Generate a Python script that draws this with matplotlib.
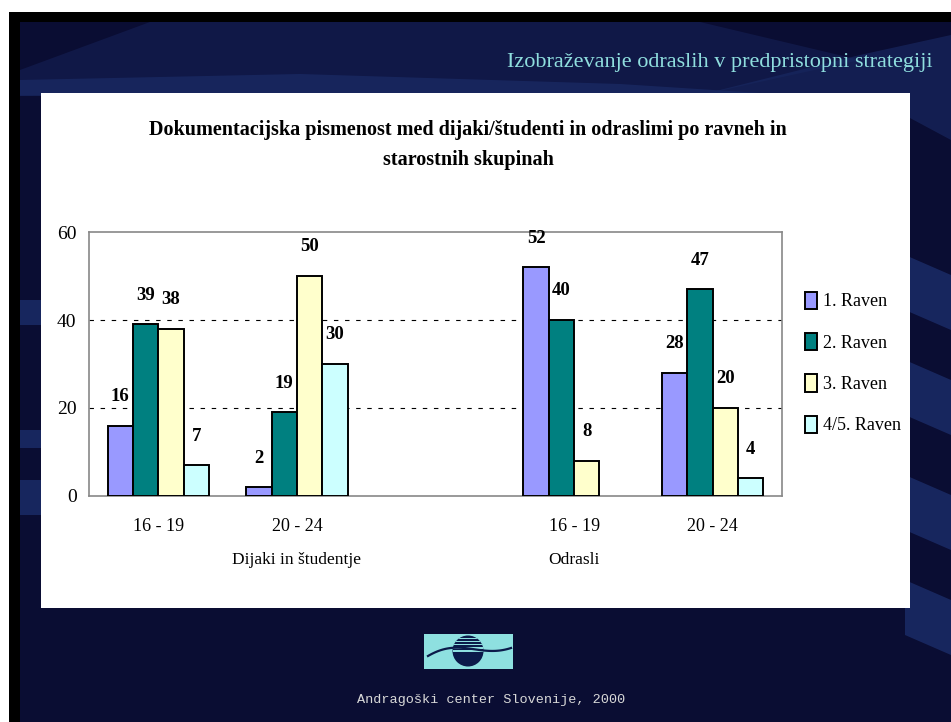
import numpy as np
import matplotlib
matplotlib.use("Agg")
import matplotlib.pyplot as plt
from matplotlib.patches import Rectangle, Polygon, Circle

# ---- data -------------------------------------------------------------
age_groups = ["16 - 19", "20 - 24", "", "16 - 19", "20 - 24"]
population_groups = ["Dijaki in študentje", "Odrasli"]
population_label_pos = [1, 3]
levels = ["1. Raven", "2. Raven", "3. Raven", "4/5. Raven"]
raven_1 = [16, 2, None, 52, 28]
raven_2 = [39, 19, None, 40, 47]
raven_3 = [38, 50, None, 8, 20]
raven_45 = [7, 30, None, None, 4]
series = [raven_1, raven_2, raven_3, raven_45]
colors = ["#9999FF", "#008080", "#FFFFCC", "#CCFFFF"]
y_ticks = [0, 20, 40, 60]

title_lines = ["Dokumentacijska pismenost med dijaki/študenti in odraslimi po ravneh in",
               "starostnih skupinah"]
header = "Izobraževanje odraslih v predpristopni strategiji"
footer = "Andragoški center Slovenije, 2000"

W, H = 951, 722
fig = plt.figure(figsize=(W / 100, H / 100), dpi=100)
fig.patch.set_facecolor("white")

# ---- slide background (pixel coordinates, y downwards) ---------------
bg = fig.add_axes([0, 0, 1, 1], zorder=0)
bg.set_xlim(0, W)
bg.set_ylim(H, 0)
bg.axis("off")

bg.add_patch(Rectangle((9, 12), W - 9, H - 12, facecolor="#000000", lw=0))
bg.add_patch(Rectangle((20, 22), W - 20, H - 22, facecolor="#0a0d33", lw=0))

band = "#1a2b66"
# broad sweep across the top
bg.add_patch(Polygon([(150, 22), (700, 22), (860, 60), (700, 95), (20, 95), (20, 70)],
                     closed=True, facecolor="#131d50", lw=0, alpha=0.7))
bg.add_patch(Polygon([(20, 80), (300, 74), (620, 84), (760, 93), (20, 96)],
                     closed=True, facecolor=band, lw=0, alpha=0.7))
bg.add_patch(Polygon([(700, 95), (860, 55), (951, 35), (951, 140), (910, 118)],
                     closed=True, facecolor=band, lw=0, alpha=0.6))
# diagonal stripes on the right edge
for y0 in (275, 380, 495, 600):
    bg.add_patch(Polygon([(905, y0 - 20), (951, y0), (951, y0 + 55), (905, y0 + 35)],
                         closed=True, facecolor=band, lw=0, alpha=0.85))
# patches on the left edge
for y0, h in ((300, 25), (430, 18), (480, 35)):
    bg.add_patch(Rectangle((20, y0), 21, h, facecolor=band, lw=0, alpha=0.85))

# white chart panel
bg.add_patch(Rectangle((41, 93), 869, 515, facecolor="white", lw=0))

bg.text(933, 62, header, ha="right", va="center", color="#8fdede",
        fontsize=16, family="Liberation Serif")
for yy, line in zip((130, 160), title_lines):
    bg.text(468, yy, line, ha="center", va="center", color="black",
            fontsize=14.5, fontweight="bold", family="Liberation Serif")

# logo
bg.add_patch(Rectangle((424, 634), 89, 35, facecolor="#8ee0e0", lw=0))
cx, cy, r = 468, 651, 15.5
disc = Circle((cx, cy), r, facecolor="#0b1a4a", lw=0)
bg.add_patch(disc)
for k in range(5):
    yy = cy - r + 2 + k * 3.2
    stripe = Rectangle((cx - r, yy), 2 * r, 1.4, facecolor="#8ee0e0", lw=0)
    bg.add_patch(stripe)
    stripe.set_clip_path(disc)
t = np.linspace(0, 1, 100)
wx = 428 + t * 83
wy = 656 - 8 * np.sin(np.pi * t) * (1 - t) * 1.6 + 6 * np.sin(np.pi * t) * t - 8 * t
bg.plot(wx, wy, color="#0b1a4a", lw=1.6)

bg.text(491, 700, footer, ha="center", va="center", color="#d8d8d8",
        fontsize=9.7, family="Liberation Mono")

# ---- bar chart --------------------------------------------------------
ax = fig.add_axes([89 / W, 1 - 496 / H, (782 - 89) / W, (496 - 232) / H], zorder=2)
ax.set_facecolor("white")
x = np.arange(len(age_groups))
width = 0.183
offsets = (np.arange(len(series)) - 1.5) * width

for vals, col, off, lab in zip(series, colors, offsets, levels):
    xs = [xi + off for xi, v in zip(x, vals) if v is not None]
    hs = [v for v in vals if v is not None]
    ax.bar(xs, hs, width=width, color=col, edgecolor="black", linewidth=1.4,
           label=lab, zorder=3)
    for xi, v in zip(xs, hs):
        ax.annotate(f"{v}", (xi, v), xytext=(0, 21), textcoords="offset points",
                    ha="center", va="center", fontsize=13.5, fontweight="bold",
                    family="Liberation Serif", zorder=4, annotation_clip=False)

ax.set_xlim(-0.5, len(age_groups) - 0.5)
ax.set_ylim(0, 60)
ax.set_yticks(y_ticks)
ax.set_yticklabels([str(v) for v in y_ticks], fontsize=14, family="Liberation Serif")
ax.set_xticks([i for i, g in enumerate(age_groups) if g])
ax.set_xticklabels([g for g in age_groups if g], fontsize=13, family="Liberation Serif")
ax.tick_params(axis="both", length=0)
ax.tick_params(axis="x", pad=16)
ax.tick_params(axis="y", pad=9)
for v in y_ticks[1:-1]:
    ax.axhline(v, color="black", lw=0.8, ls=(0, (4, 6)), zorder=1)
for s in ax.spines.values():
    s.set_color("#888888")
    s.set_linewidth(1.2)

for pos, name in zip(population_label_pos, population_groups):
    ax.annotate(name, (pos, 0), xytext=(0, -46), textcoords="offset points",
                ha="center", va="center", fontsize=12.5, family="Liberation Serif",
                annotation_clip=False)

leg = ax.legend(loc="center left", bbox_to_anchor=(789 / W, 1 - 363 / H),
                bbox_transform=fig.transFigure, frameon=False,
                prop={"family": "Liberation Serif", "size": 13},
                handlelength=0.65, handleheight=1.1, handletextpad=0.35,
                labelspacing=1.25)

fig.savefig("out.png", dpi=100)
